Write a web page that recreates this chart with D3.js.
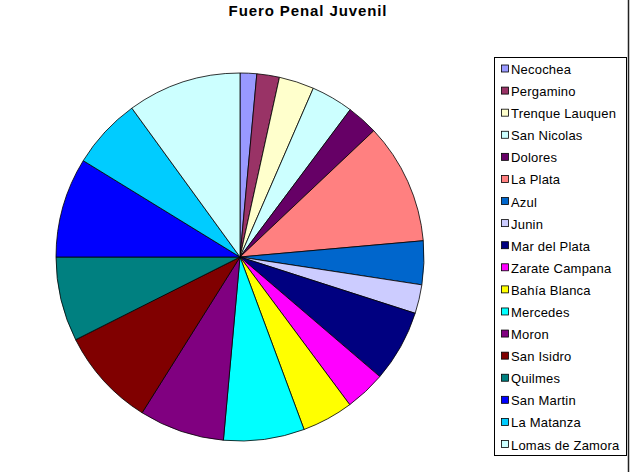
<!DOCTYPE html>
<html>
<head>
<meta charset="utf-8">
<script src="https://d3js.org/d3.v7.min.js"></script>
<style>
  body { margin: 0; background: #fff; }
  svg { display: block; font-family: Arial, "Liberation Sans", sans-serif; }
</style>
</head>
<body>
<div id="chart"></div>
<script>
// Data (share of the pie, in percent)
const districts = ["Necochea", "Pergamino", "Trenque Lauquen", "San Nicolas", "Dolores",
  "La Plata", "Azul", "Junin", "Mar del Plata", "Zarate Campana", "Bahía Blanca",
  "Mercedes", "Moron", "San Isidro", "Quilmes", "San Martin", "La Matanza", "Lomas de Zamora"];
const shares = [1.46, 1.98, 3.08, 3.70, 2.74, 10.63, 3.83, 2.53, 6.31, 3.57, 4.51,
  7.10, 7.49, 8.65, 7.42, 8.77, 6.23, 10.00];
const colors = ["#9999FF", "#993366", "#FFFFCC", "#CCFFFF", "#660066", "#FF8080",
  "#0066CC", "#CCCCFF", "#000080", "#FF00FF", "#FFFF00", "#00FFFF", "#800080",
  "#800000", "#008080", "#0000FF", "#00CCFF", "#CCFFFF"];

const W = 636, H = 472;
const cx = 240, cy = 257, radius = 184;

const svg = d3.select("#chart").append("svg")
    .attr("width", W)
    .attr("height", H);

// title
svg.append("text")
    .attr("x", 308)
    .attr("y", 16)
    .attr("text-anchor", "middle")
    .style("font-size", "15px")
    .style("font-weight", "bold")
    .style("letter-spacing", "0.9px")
    .text("Fuero Penal Juvenil");

// right border of the chart area
svg.append("line")
    .attr("x1", 628.5).attr("x2", 628.5)
    .attr("y1", 0).attr("y2", H)
    .attr("stroke", "#222")
    .attr("stroke-width", 1.5);

const color = d3.scaleOrdinal().domain(districts).range(colors);

const pie = d3.pie()
    .sort(null)
    .value(d => d.value);

const arc = d3.arc().innerRadius(0).outerRadius(radius);

const data = districts.map((name, i) => ({ name: name, value: shares[i] }));

svg.append("g")
    .attr("transform", `translate(${cx},${cy})`)
    .selectAll("path")
    .data(pie(data))
    .enter().append("path")
    .attr("d", arc)
    .attr("fill", d => color(d.data.name))
    .attr("stroke", "#000")
    .attr("stroke-width", 0.8);

// legend
const legX = 494, legY = 57, legW = 132, legH = 398;
svg.append("rect")
    .attr("x", legX + 0.5).attr("y", legY + 0.5)
    .attr("width", legW).attr("height", legH)
    .attr("fill", "#fff")
    .attr("stroke", "#000")
    .attr("stroke-width", 1);

const y = d3.scalePoint()
    .domain(districts)
    .range([69.5, 445]);

const item = svg.append("g")
    .selectAll("g")
    .data(districts)
    .enter().append("g")
    .attr("transform", d => `translate(${legX + 7},${y(d)})`);

item.append("rect")
    .attr("x", 0.5).attr("y", -4.5)
    .attr("width", 7).attr("height", 7)
    .attr("fill", d => color(d))
    .attr("stroke", "#000")
    .attr("stroke-width", 0.8);

item.append("text")
    .attr("x", 10)
    .attr("y", 4.5)
    .style("font-size", "13px")
    .style("letter-spacing", "0.2px")
    .text(d => d);
</script>
</body>
</html>
